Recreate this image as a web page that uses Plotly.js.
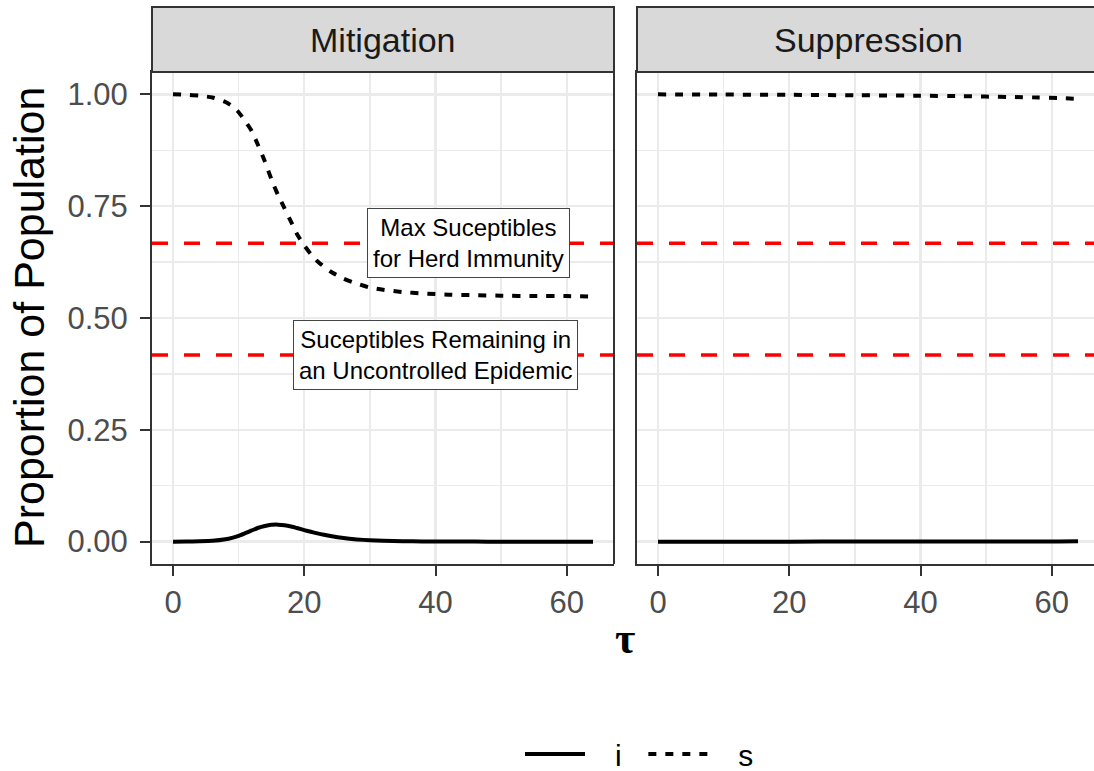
<!DOCTYPE html>
<html>
<head>
<meta charset="utf-8">
<script src="https://cdn.plot.ly/plotly-3.0.1.min.js"></script>
<style>html,body{margin:0;padding:0;background:#fff;}#chart{width:1094px;height:771px;}</style>
</head>
<body>
<div id="chart"></div>
<script>
// ---- data ----
const panels = ["Mitigation", "Suppression"];
const tauMit = [0,2,4,6,8,9,10,11,12,13,14,15,16,17,18,19,20,21,22,23,24,26,28,30,32,35,38,42,46,50,55,60,64];
const sMit = [1.000,0.999,0.997,0.993,0.983,0.974,0.960,0.940,0.918,0.885,0.850,0.810,0.775,0.745,0.715,0.685,0.662,0.643,0.627,0.615,0.604,0.588,0.577,0.568,0.563,0.558,0.555,0.552,0.551,0.550,0.549,0.549,0.548];
const iMit = [0,0.0003,0.0008,0.0018,0.0052,0.0085,0.013,0.019,0.025,0.031,0.035,0.0375,0.038,0.0368,0.034,0.030,0.0258,0.022,0.0185,0.0153,0.0125,0.008,0.005,0.003,0.0018,0.0009,0.0004,0.00015,0.00005,0,0,0,0];
const tauSup = [0,10,20,30,40,46,50,54,58,61,64];
const sSup = [1.000,0.9995,0.999,0.998,0.997,0.996,0.995,0.994,0.993,0.992,0.990];
const iSup = [0,0,0,0.0001,0.0001,0.0002,0.0002,0.0003,0.0004,0.0005,0.0007];
const refLevels = [0.667, 0.417];
const labelTexts = ["Max Suceptibles<br>for Herd Immunity", "Suceptibles Remaining in<br>an Uncontrolled Epidemic"];
const labelTau = [45, 40];
const seriesNames = ["i", "s"];
const yTickVals = [0, 0.25, 0.5, 0.75, 1.0];
const yTickText = ["0.00", "0.25", "0.50", "0.75", "1.00"];
const xTickVals = [0, 20, 40, 60];

// ---- styling ----
const FONT = "'Liberation Sans', Arial, Helvetica, sans-serif";
const W = 1094, H = 771;
const px = v => v / W;
const py = v => 1 - v / H;
const lineW = 4;
const sDash = "8px,9px";
const pad = "&nbsp;&nbsp;&nbsp;";

const x1dom = [px(152), px(614)];
const x2dom = [px(637), 1];
const ydom = [py(564), py(72)];

function trace(x, y, name, dash, xa, ya, show) {
  return {
    x: x, y: y, type: "scatter", mode: "lines", name: pad + name + "&nbsp;&nbsp;",
    legendgroup: name, showlegend: show,
    line: {color: "#000000", width: lineW, dash: dash, shape: "spline", smoothing: 0.5},
    xaxis: xa, yaxis: ya, hoverinfo: "x+y"
  };
}

const data = [
  trace(tauMit, iMit, seriesNames[0], "solid", "x", "y", true),
  trace(tauMit, sMit, seriesNames[1], sDash, "x", "y", true),
  trace(tauSup, iSup, seriesNames[0], "solid", "x2", "y2", false),
  trace(tauSup, sSup, seriesNames[1], sDash, "x2", "y2", false)
];

const gridCol = "#EBEBEB";
function xAxis(domain, range, anchor) {
  return {
    domain: domain, range: range, anchor: anchor,
    tickvals: xTickVals, ticks: "outside", ticklen: 10, tickwidth: 2, tickcolor: "#333333",
    tickfont: {family: FONT, size: 31, color: "#4D4D4D"},
    showgrid: true, gridcolor: gridCol, gridwidth: 2.4,
    minor: {dtick: 10, tick0: 0, showgrid: true, gridcolor: gridCol, gridwidth: 1.3, ticks: ""},
    zeroline: false, showline: true, mirror: true, linecolor: "#333333", linewidth: 2,
    fixedrange: true
  };
}
function yAxis(anchor, showLabels) {
  return {
    domain: ydom, range: [-0.05, 1.05], anchor: anchor,
    tickvals: yTickVals, ticktext: yTickText, showticklabels: showLabels,
    ticks: showLabels ? "outside" : "", ticklen: 10, tickwidth: 2, tickcolor: "#333333",
    tickfont: {family: FONT, size: 31, color: "#4D4D4D"},
    ticklabelstandoff: 6,
    showgrid: true, gridcolor: gridCol, gridwidth: 2.4,
    minor: {dtick: 0.125, tick0: 0, showgrid: true, gridcolor: gridCol, gridwidth: 1.3, ticks: ""},
    zeroline: false, showline: true, mirror: false, linecolor: "#333333", linewidth: 2,
    fixedrange: true
  };
}

const shapes = [];
// reference lines (geom_hline) in both panels
refLevels.forEach(v => {
  [["x domain", "y"], ["x2 domain", "y2"]].forEach(([xr, yr]) => {
    shapes.push({type: "line", xref: xr, yref: yr, x0: 0, x1: 1, y0: v, y1: v,
      line: {color: "#FF0000", width: 3.5, dash: "16px,16px"}, layer: "above"});
  });
});
// strips
const stripTop = py(7);
[[x1dom[0], x1dom[1]], [x2dom[0], 1.006]].forEach(([a, b]) => {
  shapes.push({type: "rect", xref: "paper", yref: "paper", x0: a, x1: b, y0: ydom[1], y1: stripTop,
    fillcolor: "#D9D9D9", line: {color: "#333333", width: 2}, layer: "above"});
});
// right border of panel 1
shapes.push({type: "line", xref: "paper", yref: "paper", x0: x1dom[1], x1: x1dom[1], y0: ydom[0], y1: ydom[1],
  line: {color: "#333333", width: 2}});

const annotations = [];
panels.forEach((p, k) => {
  const cx = k === 0 ? (x1dom[0] + x1dom[1]) / 2 : px((637 + 1099) / 2);
  annotations.push({xref: "paper", yref: "paper", x: cx, y: (ydom[1] + stripTop) / 2,
    text: p, showarrow: false, xanchor: "center", yanchor: "middle",
    font: {family: FONT, size: 34, color: "#1A1A1A"}});
});
labelTexts.forEach((t, k) => {
  annotations.push({xref: "x", yref: "y", x: labelTau[k], y: refLevels[k], text: t,
    showarrow: false, xanchor: "center", yanchor: "middle", align: "center",
    font: {family: FONT, size: 24, color: "#000000"},
    bgcolor: "#FFFFFF", bordercolor: "#444444", borderwidth: 1, borderpad: 5});
});
// axis titles
annotations.push({xref: "paper", yref: "paper", x: px(625), y: py(638), text: "<b>τ</b>",
  showarrow: false, xanchor: "center", yanchor: "middle",
  font: {family: "'Liberation Serif', 'DejaVu Serif', serif", size: 44, color: "#000000"}});
annotations.push({xref: "paper", yref: "paper", x: px(29), y: (ydom[0] + ydom[1]) / 2, text: "Proportion of Population",
  showarrow: false, xanchor: "center", yanchor: "middle", textangle: -90,
  font: {family: FONT, size: 43, color: "#000000"}});

const layout = {
  width: W, height: H,
  margin: {l: 0, r: 0, t: 0, b: 0, autoexpand: false},
  paper_bgcolor: "#FFFFFF", plot_bgcolor: "#FFFFFF",
  font: {family: FONT},
  xaxis: xAxis(x1dom, [-3.2, 67.2], "y"),
  yaxis: yAxis("x", true),
  xaxis2: xAxis(x2dom, [-3.2, -3.2 + (1094 - 637) / ((614 - 152) / 70.4)], "y2"),
  yaxis2: yAxis("x2", false),
  showlegend: true,
  legend: {orientation: "h", x: px(648), xanchor: "center", y: py(754), yanchor: "middle",
    font: {family: FONT, size: 30, color: "#000000"}, bgcolor: "rgba(0,0,0,0)",
    itemwidth: 60, traceorder: "normal"},
  shapes: shapes,
  annotations: annotations
};

Plotly.newPlot("chart", data, layout, {staticPlot: true, displayModeBar: false});
</script>
</body>
</html>
